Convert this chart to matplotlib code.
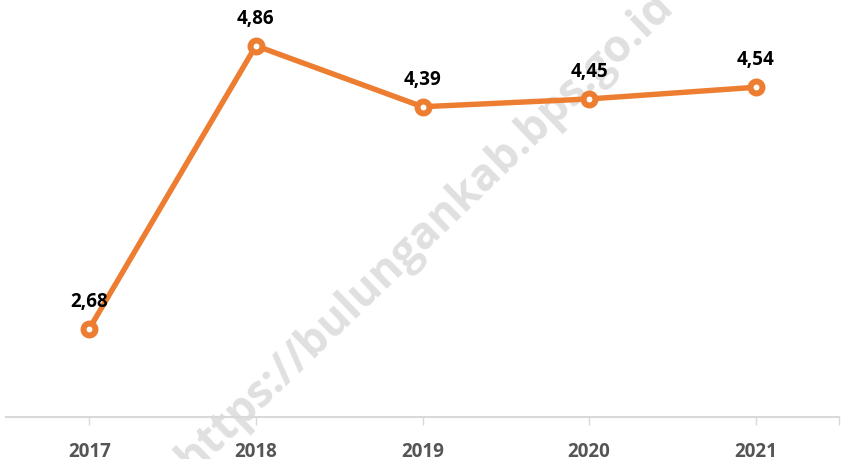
import matplotlib.pyplot as plt

years = ['2017', '2018', '2019', '2020', '2021']
values = [2.68, 4.86, 4.39, 4.45, 4.54]
labels = ['2,68', '4,86', '4,39', '4,45', '4,54']

orange = '#ED7D31'

fig = plt.figure(figsize=(8.43, 4.6), dpi=100)
ax = fig.add_axes([6 / 843, 42 / 460, 833 / 843, 418 / 460])
ax.set_facecolor('none')

x = list(range(len(years)))
ax.plot(x, values, color=orange, lw=3.9, marker='o', ms=8.6,
        mfc='white', mec=orange, mew=4.3, zorder=3, solid_capstyle='round')

for xi, v, lab in zip(x, values, labels):
    ax.annotate(lab, (xi, v), xytext=(0, 13), textcoords='offset points',
                ha='center', va='bottom', fontsize=13.5, fontweight='bold',
                family='Open Sans', color='black', zorder=4)

ax.set_xlim(-0.5, 4.5)
ax.set_ylim(2.0, 5.22)
ax.set_xticks(x + [4.5])
ax.set_xticklabels(years + [''], fontsize=13.5, fontweight='bold',
                   family='Open Sans', color='#555555')
ax.tick_params(axis='x', length=6, width=1, color='#d9d9d9', pad=11)
ax.set_yticks([])
for s in ['top', 'left', 'right']:
    ax.spines[s].set_visible(False)
ax.spines['bottom'].set_color('#d9d9d9')
ax.spines['bottom'].set_linewidth(1.5)

# watermark, behind the line and labels
ax.text(0.505, 0.495, 'https://bulungankab.bps.go.id', rotation=44,
        transform=fig.transFigure, ha='center', va='center', fontsize=32,
        fontweight='bold', family='Open Sans', color='#e0e0e0', zorder=1,
        clip_on=False)

fig.savefig('out.png', dpi=100)
